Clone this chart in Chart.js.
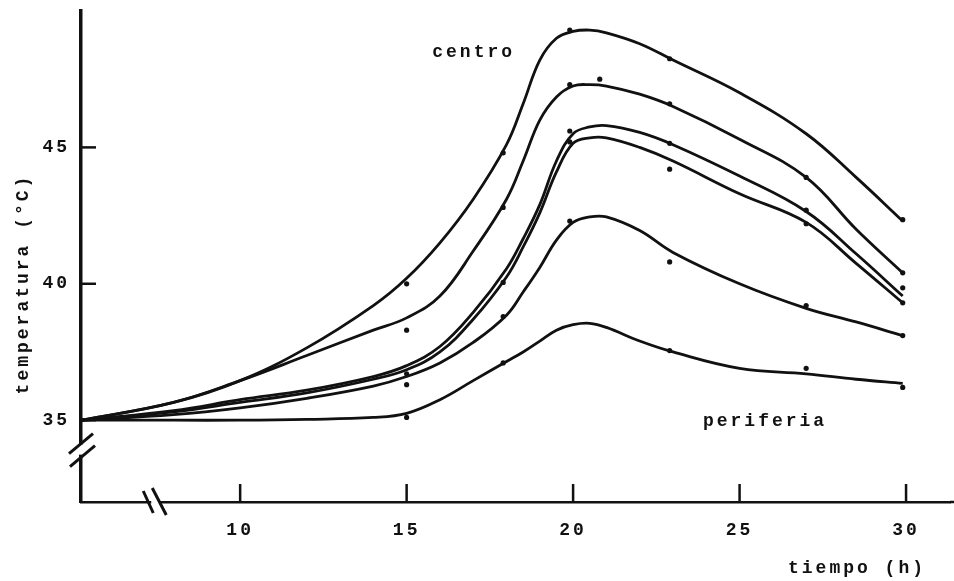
<!DOCTYPE html>
<html>
<head>
<meta charset="utf-8">
<script src="https://cdn.jsdelivr.net/npm/chart.js@4.4.0/dist/chart.umd.min.js"></script>
<style>
  html, body { margin: 0; padding: 0; background: #fff; }
  #wrap { width: 954px; height: 581px; }
</style>
</head>
<body>
<div id="wrap"><canvas id="chart" width="954" height="581"></canvas></div>
<script>
/* Values */
// hours at which each curve was read
let hours = [5.25, 8, 10, 12, 14, 15, 16, 17, 18, 18.5, 19, 19.5, 20, 20.5, 21, 22, 23, 25, 27, 28.5, 29.9]

let tempCentro    = [35.0, 35.65, 36.45, 37.65, 39.2, 40.2, 41.5, 43.1, 45.1, 46.6, 48.2, 49.0, 49.25, 49.3, 49.2, 48.8, 48.2, 47.0, 45.5, 43.9, 42.3]
let tempCurve2    = [35.0, 35.65, 36.45, 37.37, 38.3, 38.75, 39.55, 41.2, 43.1, 44.5, 46.0, 46.85, 47.25, 47.3, 47.25, 46.95, 46.5, 45.3, 43.9, 42.0, 40.4]
let tempCurve3    = [35.0, 35.35, 35.75, 36.1, 36.6, 37.0, 37.7, 38.95, 40.55, 41.65, 42.9, 44.5, 45.5, 45.75, 45.8, 45.55, 45.1, 43.95, 42.65, 41.1, 39.55]
let tempCurve4    = [35.0, 35.3, 35.65, 36.0, 36.5, 36.85, 37.5, 38.7, 40.25, 41.35, 42.6, 44.1, 45.15, 45.35, 45.35, 45.0, 44.5, 43.3, 42.25, 40.75, 39.3]
let tempCurve5    = [35.0, 35.2, 35.45, 35.8, 36.25, 36.6, 37.1, 37.85, 38.85, 39.7, 40.6, 41.6, 42.25, 42.45, 42.45, 41.95, 41.15, 40.0, 39.1, 38.6, 38.1]
let tempPeriferia = [35.0, 35.0, 35.0, 35.03, 35.1, 35.25, 35.75, 36.45, 37.15, 37.5, 37.9, 38.3, 38.5, 38.55, 38.4, 37.9, 37.5, 36.9, 36.7, 36.5, 36.35]

// measured points (dots), grouped by hour
let obsHours = [15, 17.9, 19.9, 20.8, 22.9, 27, 29.9]
let obsTemps = [
    [40.0, 38.3, 36.7, 36.3, 35.1],
    [44.8, 42.8, 40.05, 38.8, 37.1],
    [49.3, 47.3, 45.6, 45.2, 42.3],
    [47.5],
    [48.25, 46.6, 45.15, 44.2, 40.8, 37.55],
    [43.9, 42.7, 42.2, 39.2, 36.9],
    [42.35, 40.4, 39.85, 39.3, 38.1, 36.2]
]

let xTicks = [10, 15, 20, 25, 30]
let yTicks = [35, 40, 45]

// curve labels: text, hour, temperature (left edge of text)
let curveLabels = [
    ['centro', 15.77, 48.48],
    ['periferia', 23.9, 34.96]
]

let xTitle = 'tiempo (h)'
let yTitle = 'temperatura (°C)'

let ink = '#111'
let fontFamily = '"Liberation Mono", "DejaVu Sans Mono", monospace'

function curve(temps) {
    return {
        type: 'line',
        data: hours.map((h, i) => ({ x: h, y: temps[i] })),
        borderColor: ink,
        borderWidth: 2.8,
        pointRadius: 0,
        tension: 0.4,
        fill: false
    }
}

let dots = []
obsHours.forEach((h, i) => {
    obsTemps[i].forEach(t => dots.push({ x: h, y: t }))
})

// ticks drawn inward, axis breaks, labels and titles
let extrasPlugin = {
    id: 'extras',
    beforeDraw(chart) {
        chart.ctx.letterSpacing = '3px'
    },
    afterDraw(chart) {
        let ctx = chart.ctx
        let x = chart.scales.x
        let y = chart.scales.y
        let area = chart.chartArea
        ctx.save()
        ctx.strokeStyle = ink
        ctx.lineCap = 'butt'

        function seg(x1, y1, x2, y2) {
            ctx.beginPath()
            ctx.moveTo(x1, y1)
            ctx.lineTo(x2, y2)
            ctx.stroke()
        }

        ctx.lineWidth = 2.5
        xTicks.forEach(v => {
            let px = x.getPixelForValue(v)
            seg(px, area.bottom, px, area.bottom - 18)
        })
        yTicks.forEach(v => {
            let py = y.getPixelForValue(v)
            seg(area.left, py, area.left + 15, py)
        })

        // axis line runs on to the window edge
        seg(area.right, area.bottom, chart.width, area.bottom)

        // y axis break
        let by = y.getPixelForValue(33.92)
        ctx.fillStyle = '#fff'
        ctx.fillRect(area.left - 3, by - 5, 6, 10)
        ctx.lineWidth = 3
        seg(area.left - 12, by + 4, area.left + 12, by - 16)
        seg(area.left - 11, by + 17, area.left + 14, by - 4)

        // x axis break
        let bx = x.getPixelForValue(7.45)
        ctx.fillRect(bx - 4, area.bottom - 3, 8, 6)
        seg(bx - 12, area.bottom - 11, bx - 2, area.bottom + 11)
        seg(bx - 3, area.bottom - 14, bx + 11, area.bottom + 13)

        // texts
        ctx.fillStyle = ink
        ctx.font = 'bold 18px ' + fontFamily
        ctx.letterSpacing = '3px'
        ctx.textBaseline = 'middle'
        ctx.textAlign = 'left'
        curveLabels.forEach(l => {
            ctx.fillText(l[0], x.getPixelForValue(l[1]), y.getPixelForValue(l[2]))
        })

        ctx.textAlign = 'right'
        ctx.fillText(xTitle, 926, 568)

        ctx.translate(23, 284)
        ctx.rotate(-Math.PI / 2)
        ctx.textAlign = 'center'
        ctx.fillText(yTitle, 0, 0)
        ctx.restore()
    }
}

function noPadding(scale) {
    scale.paddingTop = 0
    scale.paddingBottom = 0
    scale.paddingLeft = 0
    scale.paddingRight = 0
}

let ctx = document.querySelector('#chart').getContext('2d')

let tempChart = new Chart(ctx, {
    data: {
        datasets: [
            curve(tempCentro),
            curve(tempCurve2),
            curve(tempCurve3),
            curve(tempCurve4),
            curve(tempCurve5),
            curve(tempPeriferia),
            {
                type: 'scatter',
                data: dots,
                pointRadius: 2.6,
                pointBackgroundColor: ink,
                pointBorderWidth: 0
            }
        ]
    },
    options: {
        responsive: false,
        animation: false,
        devicePixelRatio: 1,
        layout: { padding: { top: 11, left: 0, right: 0, bottom: 0 } },
        plugins: {
            legend: { display: false },
            tooltip: { enabled: false }
        },
        scales: {
            x: {
                type: 'linear',
                min: 5.22,
                max: 31.32,
                afterBuildTicks: scale => { scale.ticks = xTicks.map(v => ({ value: v })) },
                afterFit: scale => { scale.height = 79; noPadding(scale) },
                grid: { display: false, drawTicks: false },
                border: { display: true, color: ink, width: 2.5 },
                ticks: {
                    color: ink,
                    padding: 18,
                    maxRotation: 0,
                    font: { family: fontFamily, size: 18, weight: 'bold' }
                }
            },
            y: {
                type: 'linear',
                min: 32,
                max: 50,
                afterBuildTicks: scale => { scale.ticks = yTicks.map(v => ({ value: v })) },
                afterFit: scale => { scale.width = 81; noPadding(scale) },
                grid: { display: false, drawTicks: false },
                border: { display: true, color: ink, width: 3.5 },
                ticks: {
                    color: ink,
                    padding: 11,
                    font: { family: fontFamily, size: 18, weight: 'bold' }
                }
            }
        }
    },
    plugins: [extrasPlugin]
})
</script>
</body>
</html>
